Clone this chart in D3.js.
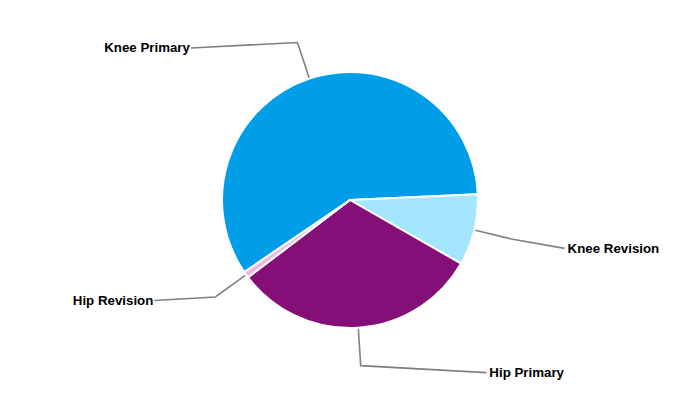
<!DOCTYPE html>
<html>
<head>
<meta charset="utf-8">
<script src="https://cdn.jsdelivr.net/npm/d3@7"></script>
<style>
  html, body { margin: 0; padding: 0; background: #fff; }
  svg { display: block; }
</style>
</head>
<body>
<svg id="chart" width="700" height="400"></svg>
<script>
// ---- data ----
const categories = ["Knee Primary", "Knee Revision", "Hip Primary", "Hip Revision"];
const values = [58.8, 9.0, 31.4, 0.8];

// ---- layout / style ----
const W = 700, H = 400;
const cx = 350, cy = 200, R = 128;
const colors = ["#009ee9", "#a4e6fd", "#840f79", "#f2b4de"];
const startDeg = -124.3;           // rotation of the first slice
const elbowR = 166;                // connector elbow radius
const labelR = 220;                // label anchor radius
const labelDeg = { "Knee Primary": -46.3, "Knee Revision": 102.7, "Hip Primary": 141.7, "Hip Revision": 242.8 };

const rad = d => d * Math.PI / 180;
const polar = (r, a) => [cx + r * Math.sin(a), cy - r * Math.cos(a)];

const data = categories.map((c, i) => ({ name: c, value: values[i], color: colors[i] }));

const pie = d3.pie().sort(null).value(d => d.value)
  .startAngle(rad(startDeg)).endAngle(rad(startDeg + 360));
const arcs = pie(data);
const arc = d3.arc().innerRadius(0).outerRadius(R);

const svg = d3.select("#chart");
const g = svg.append("g");

g.selectAll("path.slice").data(arcs).join("path")
  .attr("class", "slice")
  .attr("transform", `translate(${cx},${cy})`)
  .attr("d", arc)
  .attr("fill", d => d.data.color)
  .attr("stroke", "#fff")
  .attr("stroke-width", 2)
  .attr("stroke-linejoin", "round");

const lines = g.append("g");
const labels = g.append("g");
arcs.forEach(a => {
  const mid = (a.startAngle + a.endAngle) / 2;
  const p0 = polar(R + 1, mid);
  const p1 = polar(elbowR, mid);
  const p2 = polar(labelR, rad(labelDeg[a.data.name]));
  const right = p2[0] > cx;
  lines.append("path")
    .attr("d", d3.line()([p0, p1, p2]))
    .attr("fill", "none")
    .attr("stroke", "#808080")
    .attr("stroke-width", 1.6);
  labels.append("text")
    .attr("x", p2[0] + (right ? 3 : -1))
    .attr("y", p2[1])
    .attr("dy", "0.33em")
    .attr("text-anchor", right ? "start" : "end")
    .attr("font-family", "Liberation Sans, Arial, sans-serif")
    .attr("font-size", 13.3)
    .attr("font-weight", "bold")
    .attr("fill", "#000")
    .text(a.data.name);
});
</script>
</body>
</html>
